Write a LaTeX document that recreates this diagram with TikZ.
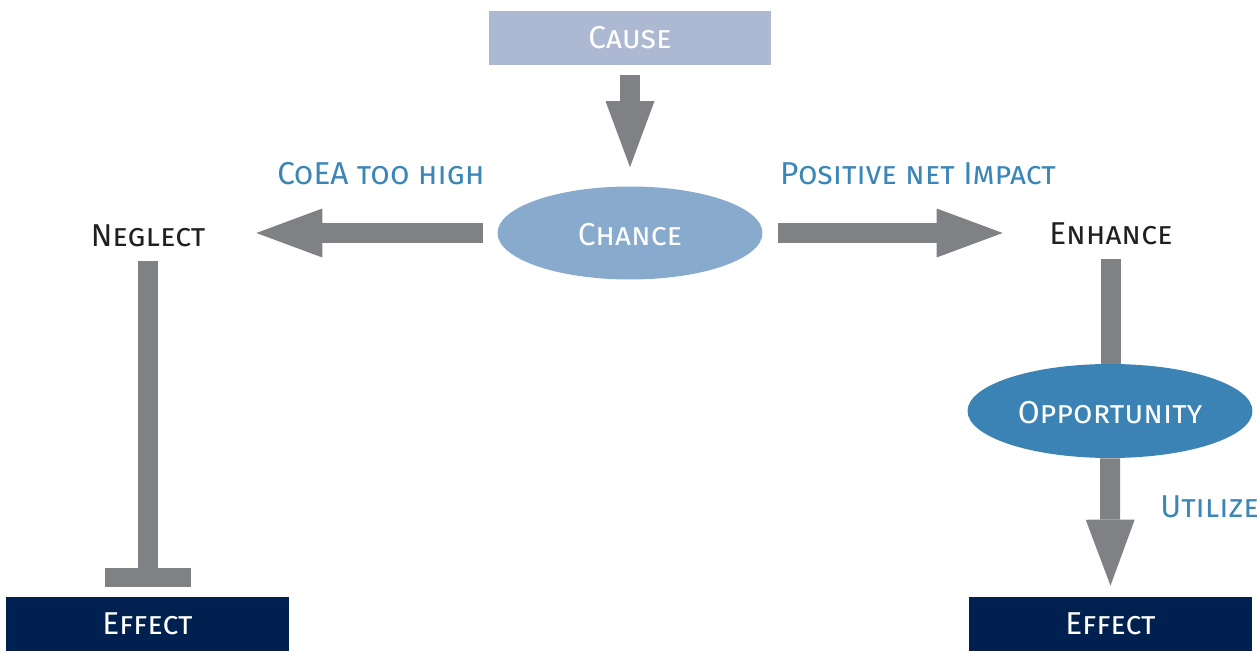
\documentclass[tikz,border=0pt]{standalone}
\usepackage{fontspec}
\setmainfont{Fira Sans}
\usetikzlibrary{arrows.meta,shapes.geometric}

\definecolor{causefill}{HTML}{ADB9D2}
\definecolor{chancefill}{HTML}{88AACC}
\definecolor{oppfill}{HTML}{3A83B4}
\definecolor{effectfill}{HTML}{00214F}
\definecolor{arrowgray}{HTML}{808184}
\definecolor{labelblue}{HTML}{3A86B7}
\definecolor{textblack}{HTML}{231F20}

\tikzset{
  txt/.style={font=\fontsize{18}{20}\selectfont\scshape},
  boxnode/.style={txt, rectangle, minimum width=5.66cm, minimum height=1.08cm, inner sep=0pt, text=white},
  ovalnode/.style={txt, ellipse, inner sep=0pt, text=white, text height=0.52cm},
  plainnode/.style={txt, text=textblack, minimum width=4.32cm, minimum height=1cm, inner sep=0pt},
  edgelabel/.style={txt, text=labelblue, inner sep=0pt},
  fatarrow/.style={draw=arrowgray, line width=0.4cm,
    -{Triangle[length=1.32cm, width=0.98cm, line width=0pt, fill=arrowgray, color=arrowgray]}},
  blockbar/.style={draw=arrowgray, line width=0.4cm,
    -{Rectangle[length=0.38cm, width=1.72cm, line width=0pt, fill=arrowgray, color=arrowgray]}},
  shaft/.style={draw=arrowgray, line width=0.4cm}
}

\begin{document}
\begin{tikzpicture}[x=0.02cm, y=-0.02cm]
  \useasboundingbox (0,0) rectangle (1257,651);

  % boxes and ovals
  \node[boxnode, fill=causefill] (cause) at (630,38) {Cause};
  \node[ovalnode, fill=chancefill, minimum width=5.3cm, minimum height=1.86cm] (chance) at (630,233) {Chance};
  \node[plainnode] (neglect) at (148,236) {Neglect};
  \node[plainnode] (enhance) at (1111,234) {Enhance};
  \node[boxnode, fill=effectfill] (effectL) at (147.5,624) {Effect};
  \node[boxnode, fill=effectfill] (effectR) at (1110.5,624) {Effect};

  % branch labels
  \node[edgelabel] (lblneglect) at (381,174) {CoEA too high};
  \node[edgelabel] (lblenhance) at (918,174) {Positive net Impact};
  \node[edgelabel, anchor=west] (lblutilize) at (1160,507) {Utilize};

  % connectors
  \draw[fatarrow, shorten <=0.2cm, shorten >=0.38cm] (cause.south) -- (chance.north);
  \draw[fatarrow, shorten <=0.28cm] (chance.west) -- (chance.west -| neglect.east);
  \draw[fatarrow, shorten <=0.3cm] (chance.east) -- (chance.east -| enhance.west);
  \draw[blockbar, shorten >=0.2cm] (neglect.south) -- (neglect.south |- effectL.north);
  \draw[shaft] (enhance.south) -- (enhance.south |- 0,366) coordinate (oppjoin);

  \node[ovalnode, fill=oppfill, minimum width=5.7cm, minimum height=1.88cm] (opp) at (1110,411) {Opportunity};
  \draw[fatarrow, shorten >=0.22cm] (opp.south) -- (effectR.north);
\end{tikzpicture}
\end{document}
